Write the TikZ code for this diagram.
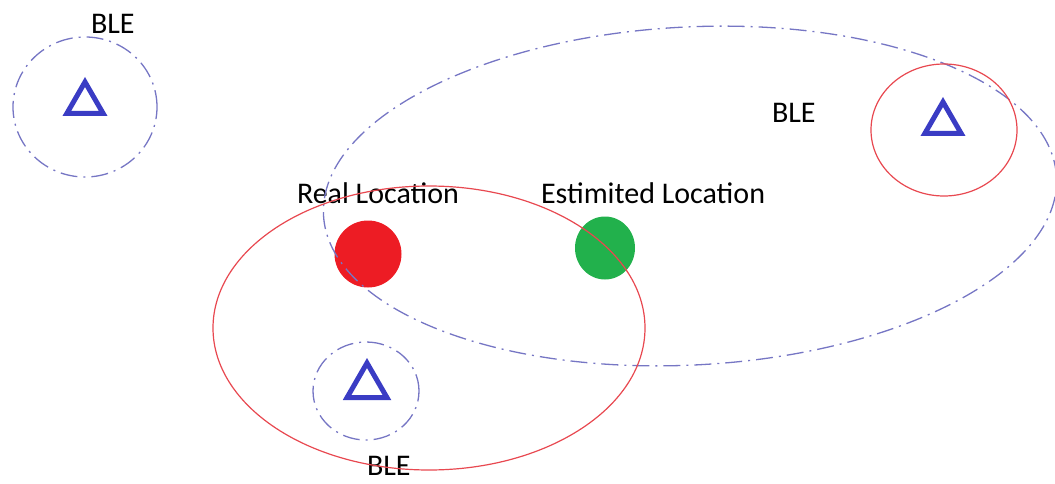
\documentclass[tikz,border=0pt]{standalone}
\usepackage{fontspec}
\setmainfont{Carlito}
\usetikzlibrary{shapes.geometric}

\definecolor{bleblue}{RGB}{58,60,196}
\definecolor{rangeblue}{RGB}{118,118,196}
\definecolor{rangered}{RGB}{232,72,80}
\definecolor{realred}{RGB}{237,28,36}
\definecolor{estgreen}{RGB}{34,177,76}

\begin{document}
\begin{tikzpicture}
	 [x=1pt,y=-1pt,every node/.style={inner sep=0pt,outer sep=0pt},
	  beacon/.style={regular polygon,regular polygon sides=3,draw=bleblue,line width=5pt,minimum size=42pt},
	  dot/.style={ellipse},
	  lbl/.style={font=\fontsize{30}{36}\selectfont,anchor=base west},
	  bleRange/.style={draw=rangeblue,line width=1.3pt,dash pattern=on 17pt off 6pt on 2pt off 6pt},
	  estRange/.style={draw=rangered,line width=1.2pt}]
	\clip (0,0) rectangle (1055,484);

	  \node[beacon] (b1) at (85,103) {};
	  \node[beacon] (b2) at (943,123) {};
	  \node[beacon,minimum size=46pt] (b3) at (367,386) {};

	  \node[dot,fill=realred,minimum width=67pt,minimum height=67pt] (real) at (368,254) {};
	  \node[dot,fill=estgreen,minimum width=60pt,minimum height=63pt] (est) at (605,248) {};

   	  \node[lbl] (L1) at (91,34) {BLE};
   	  \node[lbl] (L2) at (772,123) {BLE};
   	  \node[lbl] (L3) at (367,475) {BLE};
   	  \node[lbl] (L4) at (297,203) {Real Location};
   	  \node[lbl] (L5) at (541,203) {Estimited Location};

	\foreach \cx/\cy/\rx/\ry in {85/107/72/70,366/391/53/49}
    \draw[bleRange] (\cx,\cy) ellipse (\rx pt and \ry pt);

    \draw[bleRange,rotate around={3:(690,196)}] (690,196) ellipse (367pt and 169pt);

    \draw[estRange] (944,130) ellipse (73pt and 66pt);
    \draw[estRange] (429,328) ellipse (216pt and 142pt);

\end{tikzpicture}
\end{document}
